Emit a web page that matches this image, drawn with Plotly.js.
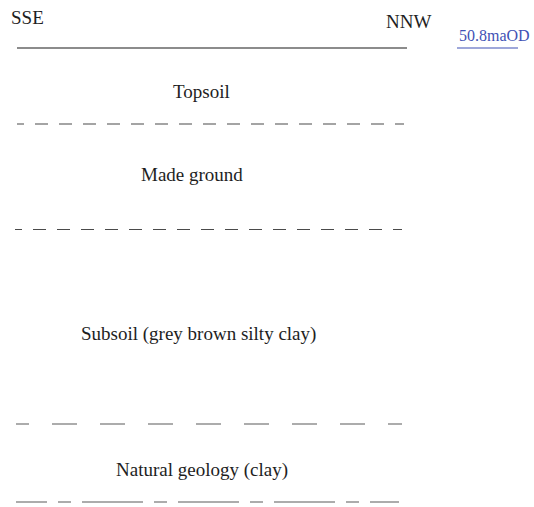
<!DOCTYPE html>
<html>
<head>
<meta charset="utf-8">
<script src="https://cdn.plot.ly/plotly-3.0.1.min.js"></script>
<style>html,body{margin:0;padding:0;background:#fff;}#chart{width:534px;height:507px;}</style>
</head>
<body>
<div id="chart"></div>
<script>
// Section drawing (drawing units: 0..534 across, 0..507 down)
const endLabels = ["SSE", "NNW"];
const endLabelX = [27, 408];
const endLabelY = [17, 21];

const datumLabel = "50.8maOD";
const datumX = [457, 518];
const datumY = 48;

const layerNames = ["Topsoil", "Made ground", "Subsoil (grey brown silty clay)", "Natural geology (clay)"];
const layerLabelX = [201, 192, 198, 202];
const layerLabelY = [91, 174, 334, 470];

// Boundaries: ground surface then lower limit of each layer
const boundaryY = [48, 124, 229.5, 424, 502];
const boundaryStart = [17, 17, 15, 16, 16];
const boundaryEnd = [407, 404, 402, 402, 399];
const boundaryDash = ["solid", "7px,11px,6px,0px", "7px,11px,6px,0px", "13px,23px,12px,0px", "31px,11px,13px,11px,30px,0px"];
const boundaryColor = ["#1a1a1a", "#4a4a4a", "#4a4a4a", "#5a5a5a", "#5a5a5a"];

const FONT = "Liberation Serif, Times New Roman, serif";
const traces = boundaryY.map((y, i) => ({
  type: "scatter", mode: "lines",
  x: [boundaryStart[i], boundaryEnd[i]], y: [y, y],
  line: {color: boundaryColor[i], width: 1.2, dash: boundaryDash[i]},
  hoverinfo: "skip", showlegend: false
}));
traces.push({
  type: "scatter", mode: "lines",
  x: datumX, y: [datumY, datumY],
  line: {color: "#3f51b5", width: 1.2},
  hoverinfo: "skip", showlegend: false
});

const annotations = [];
endLabels.forEach((t, i) => annotations.push({
  text: t, x: endLabelX[i], y: endLabelY[i], xref: "x", yref: "y",
  showarrow: false, xanchor: "center", yanchor: "middle",
  font: {family: FONT, size: 19, color: "#1e1e1e"}
}));
annotations.push({
  text: datumLabel, x: (datumX[0] + 531) / 2 + 0.5, y: 35, xref: "x", yref: "y",
  showarrow: false, xanchor: "center", yanchor: "middle",
  font: {family: FONT, size: 16, color: "#3f51b5"}
});
layerNames.forEach((t, i) => annotations.push({
  text: t, x: layerLabelX[i], y: layerLabelY[i], xref: "x", yref: "y",
  showarrow: false, xanchor: "center", yanchor: "middle",
  font: {family: FONT, size: 19, color: "#1e1e1e"}
}));

const layout = {
  width: 534, height: 507,
  margin: {l: 0, r: 0, t: 0, b: 0, pad: 0},
  paper_bgcolor: "#ffffff", plot_bgcolor: "#ffffff",
  xaxis: {range: [0, 534], visible: false, fixedrange: true},
  yaxis: {range: [507, 0], visible: false, fixedrange: true},
  annotations: annotations,
  showlegend: false
};
Plotly.newPlot("chart", traces, layout, {displayModeBar: false, staticPlot: true});
</script>
</body>
</html>
